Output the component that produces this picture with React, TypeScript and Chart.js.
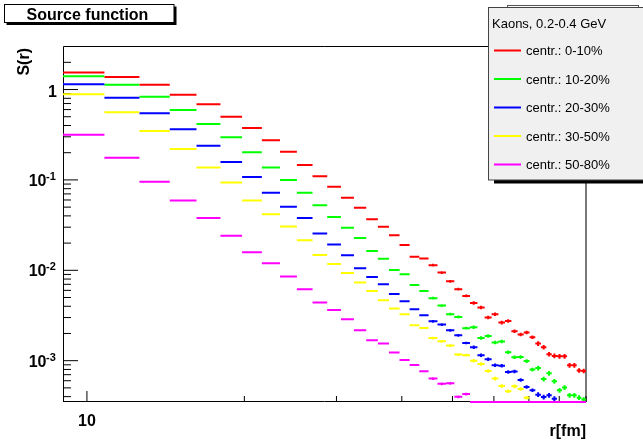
import { useEffect, useRef } from 'react';
import { Chart, registerables } from 'chart.js';

Chart.register(...registerables);

// ---- axis ranges ----
const X_MIN = 9.0;
const X_MAX = 90.0;
const Y_MIN = 3.49e-4;
const Y_MAX = 2.956;

// ---- binning (uniform bins in r, fm) ----
const BIN_START = 9.0;
const BIN_WIDTH = 1.8;
const N_BINS = 45;

// ---- ticks ----
const xMajorTicks = [10];
const xMinorTicks = [20, 30, 40, 50, 60, 70, 80, 90];
const xTickLabels = ['10'];
const yMajorTicks = [1, 0.1, 0.01, 0.001];
const yTickBase = ['1', '10', '10', '10'];
const yTickExp = ['', '-1', '-2', '-3'];
const yMinorMult = [2, 3, 4, 5, 6, 7, 8, 9];

// ---- texts ----
const chartTitle = 'Source function';
const xTitle = 'r[fm]';
const yTitle = 'S(r)';
const legendHeader = 'Kaons, 0.2-0.4 GeV';

// ---- series values (S(r) per bin) ----
const centr0_10 = [
  1.54, 1.38, 1.13, 0.876, 0.687, 0.5, 0.375, 0.274, 0.205, 0.146,
  0.11, 0.0839, 0.0633, 0.0491, 0.0368, 0.0304, 0.0245, 0.019, 0.0141, 0.0135,
  0.0114, 0.00946, 0.00757, 0.00618, 0.00521, 0.00436, 0.00387, 0.003, 0.00327, 0.00264,
  0.00275, 0.00212, 0.00195, 0.00205, 0.00182, 0.00155, 0.00141, 0.00118, 0.00113, 0.00112,
  0.00112, 0.00089, 0.00089, 0.00078, 0.00077,
];
const centr10_20 = [
  1.4, 1.13, 0.832, 0.593, 0.415, 0.296, 0.202, 0.1375, 0.1, 0.072,
  0.0526, 0.039, 0.0296, 0.0228, 0.0164, 0.0134, 0.0101, 0.00905, 0.00689, 0.00591,
  0.00491, 0.00407, 0.00327, 0.00305, 0.00229, 0.00234, 0.00178, 0.00188, 0.00159, 0.00163,
  0.00124, 0.00109, 0.0011, 0.00099, 0.000797, 0.00083, 0.000627, 0.000725, 0.000591, 0.00047,
  0.000504, 0.000414, 0.000414, 0.00039, 0.000371,
];
const centr20_30 = [
  1.142, 0.811, 0.545, 0.3625, 0.2385, 0.1575, 0.1074, 0.072, 0.0504, 0.038,
  0.02556, 0.0193, 0.0147, 0.01055, 0.00845, 0.00702, 0.00548, 0.00455, 0.00371, 0.00318,
  0.00273, 0.00251, 0.00217, 0.00191, 0.00157, 0.00141, 0.00115, 0.00104, 0.00089, 0.00088,
  0.00075, 0.00076, 0.000611, 0.000512, 0.00047, 0.000421, 0.000396, 0.000414, 0.00038, null,
  null, null, null, null, null,
];
const centr30_50 = [
  0.885, 0.559, 0.347, 0.2193, 0.1375, 0.0938, 0.0593, 0.0418, 0.0306, 0.02154,
  0.0148, 0.01177, 0.00936, 0.00733, 0.00591, 0.00467, 0.00378, 0.00327, 0.00247, 0.0023,
  0.00178, 0.00164, 0.00147, 0.00117, 0.00115, 0.001, 0.00092, 0.00077, 0.000634, 0.000525,
  0.000459, 0.00052, 0.000486, 0.00039, null, null, null, null, null, null,
  null, null, null, null, null,
];
const centr50_80 = [
  0.316, 0.1757, 0.0953, 0.0593, 0.0378, 0.02404, 0.01586, 0.01199, 0.00854, 0.00618,
  0.0044, 0.00364, 0.00287, 0.00217, 0.00168, 0.00155, 0.00123, 0.00102, 0.000896, 0.000763,
  0.000634, 0.000555, 0.000563, 0.000398, 0.000428, 0, 0, 0, 0, 0,
  0, 0, 0, 0, 0, 0, 0, 0, 0, 0,
  0, 0, 0, 0, 0,
];
// relative statistical error per bin (vertical error bars)
const relErr = [
  0.003, 0.003, 0.003, 0.003, 0.003, 0.003, 0.003, 0.003, 0.003, 0.003,
  0.01, 0.01, 0.01, 0.01, 0.01, 0.025, 0.025, 0.025, 0.025, 0.025,
  0.035, 0.035, 0.035, 0.035, 0.035, 0.045, 0.045, 0.045, 0.045, 0.045,
  0.045, 0.045, 0.045, 0.045, 0.045, 0.06, 0.06, 0.06, 0.06, 0.06,
  0.06, 0.06, 0.06, 0.06, 0.06,
];

const seriesLabels = ['centr.: 0-10%', 'centr.: 10-20%', 'centr.: 20-30%', 'centr.: 30-50%', 'centr.: 50-80%'];
const seriesColors = ['#ff0000', '#00ff00', '#0000ff', '#ffff00', '#ff00ff'];
const seriesValues = [centr0_10, centr10_20, centr20_30, centr30_50, centr50_80];

const FONT = '"Liberation Sans", Arial, Helvetica, sans-serif';

function buildPoints(values: (number | null)[]) {
  const pts: { x: number; y: number | null }[] = [];
  for (let k = 0; k < N_BINS; k++) {
    const v = values[k];
    if (v === null || v === undefined) continue;
    const lo = BIN_START + k * BIN_WIDTH;
    const hi = lo + BIN_WIDTH;
    const c = lo + BIN_WIDTH / 2;
    const yv = v === 0 ? Y_MIN : v;
    pts.push({ x: lo, y: yv }, { x: hi, y: yv }, { x: c, y: null });
    if (v > 0) {
      const e = relErr[k] * v;
      pts.push({ x: c, y: v - e }, { x: c, y: v + e }, { x: c, y: null });
    }
  }
  return pts;
}

const rootPlugin = {
  id: 'rootStyle',
  beforeDraw(chart: any) {
    const ctx = chart.ctx;
    ctx.save();
    ctx.fillStyle = '#ffffff';
    ctx.fillRect(0, 0, chart.width, chart.height);
    ctx.restore();
  },
  beforeDatasetsDraw(chart: any) {
    const { ctx, chartArea: a, scales } = chart;
    const x = scales.x;
    const y = scales.y;
    ctx.save();
    ctx.lineWidth = 1;
    ctx.strokeStyle = '#000000';
    // frame: top, left, bottom
    ctx.beginPath();
    ctx.moveTo(a.left + 0.5, a.top - 0.5);
    ctx.lineTo(a.right, a.top - 0.5);
    ctx.moveTo(a.left + 0.5, a.top - 0.5);
    ctx.lineTo(a.left + 0.5, a.bottom);
    ctx.moveTo(a.left, a.bottom - 0.5);
    ctx.lineTo(a.right, a.bottom - 0.5);
    ctx.stroke();
    // right border (grey)
    ctx.strokeStyle = '#7a7a7a';
    ctx.lineWidth = 2;
    ctx.beginPath();
    ctx.moveTo(a.right, a.top - 1);
    ctx.lineTo(a.right, a.bottom);
    ctx.stroke();

    // y ticks
    ctx.strokeStyle = '#000000';
    ctx.lineWidth = 1;
    ctx.beginPath();
    for (const m of yMajorTicks) {
      const py = y.getPixelForValue(m);
      ctx.moveTo(a.left, py);
      ctx.lineTo(a.left + 15, py);
      for (const mm of yMinorMult) {
        const v = m * mm;
        if (v < Y_MIN || v > Y_MAX) continue;
        const p = y.getPixelForValue(v);
        ctx.moveTo(a.left, p);
        ctx.lineTo(a.left + 8, p);
      }
    }
    // minor ticks of the decade below the lowest major tick
    const lowest = yMajorTicks[yMajorTicks.length - 1] / 10;
    for (const mm of yMinorMult) {
      const v = lowest * mm;
      if (v < Y_MIN || v > Y_MAX) continue;
      const p = y.getPixelForValue(v);
      ctx.moveTo(a.left, p);
      ctx.lineTo(a.left + 8, p);
    }
    // x ticks
    for (const t of xMajorTicks) {
      const px = x.getPixelForValue(t);
      ctx.moveTo(px, a.bottom);
      ctx.lineTo(px, a.bottom - 11);
    }
    for (const t of xMinorTicks) {
      const px = x.getPixelForValue(t);
      ctx.moveTo(px, a.bottom);
      ctx.lineTo(px, a.bottom - 6);
    }
    ctx.stroke();
    ctx.restore();
  },
  afterDraw(chart: any) {
    const { ctx, chartArea: a, scales } = chart;
    const x = scales.x;
    const y = scales.y;
    ctx.save();
    ctx.fillStyle = '#000000';

    // y tick labels
    yMajorTicks.forEach((v, i) => {
      const py = y.getPixelForValue(v);
      if (yTickExp[i] === '') {
        ctx.font = `bold 16px ${FONT}`;
        ctx.textAlign = 'right';
        ctx.textBaseline = 'alphabetic';
        ctx.fillText(yTickBase[i], 57, py + 7);
      } else {
        ctx.font = `bold 16px ${FONT}`;
        ctx.textAlign = 'right';
        ctx.textBaseline = 'alphabetic';
        ctx.fillText(yTickBase[i], 46.5, py + 6);
        ctx.font = `bold 11px ${FONT}`;
        ctx.textAlign = 'left';
        ctx.fillText(yTickExp[i], 46, py);
      }
    });

    // x tick labels
    ctx.font = `bold 16px ${FONT}`;
    ctx.textAlign = 'center';
    ctx.textBaseline = 'alphabetic';
    xMajorTicks.forEach((v, i) => {
      ctx.fillText(xTickLabels[i], x.getPixelForValue(v), a.bottom + 24);
    });

    // axis titles
    ctx.textAlign = 'right';
    ctx.fillText(xTitle, a.right, 436);
    ctx.save();
    ctx.translate(28.5, a.top + 1);
    ctx.rotate(-Math.PI / 2);
    ctx.textAlign = 'right';
    ctx.fillText(yTitle, 0, 0);
    ctx.restore();

    // title box
    ctx.fillStyle = '#000000';
    ctx.fillRect(6.5, 6.5, 170, 18.5);
    ctx.fillStyle = '#ffffff';
    ctx.fillRect(4.5, 4.5, 169.5, 18);
    ctx.strokeStyle = '#000000';
    ctx.lineWidth = 1;
    ctx.strokeRect(4.5, 4.5, 169.5, 18);
    ctx.fillStyle = '#000000';
    ctx.font = `bold 16px ${FONT}`;
    ctx.textAlign = 'center';
    ctx.fillText(chartTitle, 87.5, 20);

    // box hidden behind the legend
    ctx.fillStyle = '#ffffff';
    ctx.fillRect(507.5, 5.5, 131, 30);
    ctx.strokeStyle = '#555555';
    ctx.strokeRect(507.5, 5.5, 131, 30);

    // legend
    ctx.fillStyle = '#000000';
    ctx.fillRect(494, 180, 160, 3.5);
    ctx.fillStyle = '#f0f0f0';
    ctx.fillRect(488.5, 7.5, 170, 172.5);
    ctx.strokeStyle = '#444444';
    ctx.strokeRect(488.5, 7.5, 170, 172.5);
    ctx.fillStyle = '#000000';
    ctx.font = `13px ${FONT}`;
    ctx.textAlign = 'left';
    ctx.fillText(legendHeader, 492, 27.5);
    const ds = chart.data.datasets;
    ds.forEach((d: any, i: number) => {
      const ly = 50.5 + i * 28.5;
      ctx.strokeStyle = d.borderColor;
      ctx.lineWidth = 2;
      ctx.beginPath();
      ctx.moveTo(494, ly);
      ctx.lineTo(521, ly);
      ctx.stroke();
      ctx.fillStyle = '#000000';
      ctx.fillText(d.label, 526, ly + 4.7);
    });
    ctx.restore();
  },
};

export default function App() {
  const ref = useRef<HTMLCanvasElement | null>(null);
  useEffect(() => {
    if (!ref.current) return;
    const datasets = seriesValues.map((vals, i) => ({
      label: seriesLabels[i],
      data: buildPoints(vals),
      borderColor: seriesColors[i],
      backgroundColor: seriesColors[i],
      borderWidth: 2,
      showLine: true,
      spanGaps: false,
      pointRadius: 0,
      pointHoverRadius: 0,
      fill: false,
      tension: 0,
      clip: false,
      order: seriesValues.length - i,
    }));
    const chart = new Chart(ref.current, {
      type: 'scatter',
      data: { datasets },
      options: {
        animation: false,
        responsive: false,
        devicePixelRatio: 1,
        events: [],
        layout: { padding: { left: 63, right: 57, top: 47, bottom: 46 } },
        plugins: {
          legend: { display: false },
          tooltip: { enabled: false },
          title: { display: false },
        },
        scales: {
          x: { type: 'logarithmic', min: X_MIN, max: X_MAX, display: false, bounds: 'data' },
          y: { type: 'logarithmic', min: Y_MIN, max: Y_MAX, display: false, bounds: 'data' },
        },
      } as any,
      plugins: [rootPlugin],
    });
    return () => chart.destroy();
  }, []);
  return (
    <div style={{ position: 'absolute', left: 0, top: 0, width: 643, height: 448, background: '#fff' }}>
      <canvas ref={ref} width={643} height={448} style={{ width: 643, height: 448, display: 'block' }} />
    </div>
  );
}
